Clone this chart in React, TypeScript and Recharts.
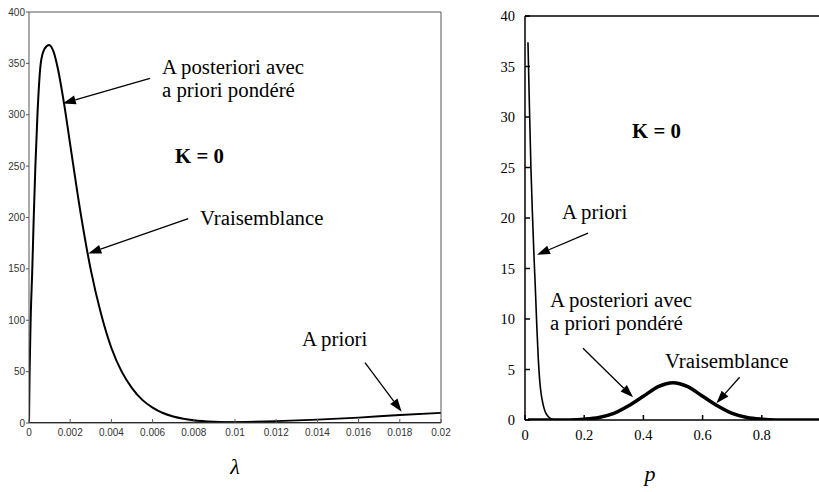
import React from 'react';
import { LineChart, Line, XAxis, YAxis, ReferenceLine } from 'recharts';

// left panel: lambda
const lambdaPost = [0, 0.00003, 0.00008, 0.00016, 0.00023, 0.00031, 0.00041, 0.00057, 0.00075, 0.00097, 0.0012, 0.0014, 0.0017, 0.002, 0.0025, 0.003, 0.0035, 0.004, 0.0045, 0.005, 0.0055, 0.006, 0.0065, 0.007, 0.0075, 0.008, 0.009, 0.01, 0.012, 0.014, 0.016, 0.018, 0.02];
const posteriorLambda = [0, 50, 100, 150, 200, 250, 300, 350, 364, 368, 361, 345, 311, 271, 205, 149, 106, 73, 50, 34, 22.5, 15, 9.7, 6.4, 4.2, 2.7, 1.1, 0.4, 0.1, 0, 0, 0, 0];
const lambdaPrior = [0, 0.006, 0.008, 0.01, 0.012, 0.014, 0.016, 0.018, 0.02];
const priorLambda = [0, 0, 0.3, 0.8, 1.8, 3.3, 5.3, 7.8, 9.8];
const lambdaTicks = [0, 0.002, 0.004, 0.006, 0.008, 0.01, 0.012, 0.014, 0.016, 0.018, 0.02];
const leftTicks = [0, 50, 100, 150, 200, 250, 300, 350, 400];

// right panel: p
const pPrior = [0.01, 0.015, 0.02, 0.025, 0.03, 0.035, 0.04, 0.045, 0.05, 0.055, 0.06, 0.065, 0.07, 0.08, 0.09, 0.1];
const priorP = [37.4, 31, 25, 20.5, 16.5, 13, 9.2, 6, 3.8, 2.5, 1.7, 1.1, 0.7, 0.3, 0.1, 0];
const pBell = [0.01, 0.1, 0.15, 0.2, 0.25, 0.3, 0.35, 0.4, 0.45, 0.5, 0.55, 0.6, 0.65, 0.7, 0.75, 0.8, 0.85, 0.9, 1];
const likelihoodP = [0, 0, 0.01, 0.08, 0.25, 0.65, 1.4, 2.35, 3.3, 3.7, 3.3, 2.35, 1.4, 0.65, 0.25, 0.08, 0.01, 0, 0];
const pTicks = [0, 0.2, 0.4, 0.6, 0.8];
const rightTicks = [0, 5, 10, 15, 20, 25, 30, 35, 40];

const postData = lambdaPost.map((x, i) => ({ x, y: posteriorLambda[i] }));
const priorData = lambdaPrior.map((x, i) => ({ x, y: priorLambda[i] }));
const priorPData = pPrior.map((x, i) => ({ x, y: priorP[i] }));
const bellData = pBell.map((x, i) => ({ x, y: likelihoodP[i] }));

const Arrow = (props: any) => {
  const { x1, y1, x2, y2 } = props;
  const dx = x2 - x1;
  const dy = y2 - y1;
  const len = Math.hypot(dx, dy) || 1;
  const ux = dx / len;
  const uy = dy / len;
  const hl = 13;
  const hw = 4.5;
  const bx = x2 - ux * hl;
  const by = y2 - uy * hl;
  return (
    <g>
      <line x1={x1} y1={y1} x2={bx} y2={by} stroke="#000" strokeWidth={1.3} />
      <polygon
        points={`${x2},${y2} ${bx - uy * hw},${by + ux * hw} ${bx + uy * hw},${by - ux * hw}`}
        fill="#000"
      />
    </g>
  );
};

const serif = "'Liberation Serif', 'DejaVu Serif', Tinos, 'Noto Serif', 'Nimbus Roman', FreeSerif, Times, serif";
const sans = "'Liberation Sans', Arial";
const fmt = (v: number) => String(v);

export default function App() {
  return (
    <div style={{ position: 'fixed', left: 0, top: 0, width: 819, height: 492, overflow: 'hidden', background: '#fff' }}>
      <div style={{ position: 'absolute', left: 0, top: 0 }}>
        <LineChart width={460} height={492} margin={{ top: 11, right: 18, bottom: 39, left: 0 }}>
          <XAxis dataKey="x" type="number" domain={[0, 0.02]} ticks={lambdaTicks} interval={0} tickFormatter={fmt}
            height={30} tickSize={-4} tickMargin={10} stroke="#555" allowDataOverflow
            tick={{ fontSize: 10, fill: '#333', style: { fontFamily: sans } }} />
          <XAxis xAxisId="top" orientation="top" dataKey="x" type="number" domain={[0, 0.02]} ticks={lambdaTicks}
            interval={0} height={1} tick={false} tickSize={-4} stroke="#555" allowDataOverflow />
          <YAxis type="number" domain={[0, 400]} ticks={leftTicks} interval={0} width={29} tickSize={3} tickMargin={1}
            stroke="#555" allowDataOverflow tick={{ fontSize: 10, fill: '#333', style: { fontFamily: sans } }} />
          <YAxis yAxisId="right" orientation="right" type="number" domain={[0, 400]} ticks={leftTicks} interval={0}
            width={1} tick={false} tickSize={-4} stroke="#555" allowDataOverflow />
          <Line data={priorData} dataKey="y" type="monotone" stroke="#000" strokeWidth={1.8} dot={false} isAnimationActive={false} />
          <Line data={postData} dataKey="y" type="monotone" stroke="#000" strokeWidth={2} dot={false} isAnimationActive={false} />
          <ReferenceLine segment={[{ x: 0.00587, y: 335.5 }, { x: 0.00164, y: 311 }]} ifOverflow="visible" shape={Arrow} />
          <ReferenceLine segment={[{ x: 0.00773, y: 199 }, { x: 0.00288, y: 165 }]} ifOverflow="visible" shape={Arrow} />
          <ReferenceLine segment={[{ x: 0.01631, y: 58.7 }, { x: 0.01809, y: 11 }]} ifOverflow="visible" shape={Arrow} />
        </LineChart>
      </div>
      <div style={{ position: 'absolute', left: 460, top: 0 }}>
        <LineChart width={380} height={492} margin={{ top: 15, right: 18, bottom: 32, left: 0 }}>
          <XAxis dataKey="x" type="number" domain={[0, 1]} ticks={pTicks} interval={0} tickFormatter={fmt}
            height={40} tickSize={-5} tickMargin={15} stroke="#000" strokeWidth={1.5} allowDataOverflow
            tick={{ fontSize: 14.5, fill: '#000', style: { fontFamily: serif } }} />
          <XAxis xAxisId="top" orientation="top" dataKey="x" type="number" domain={[0, 1]} ticks={pTicks}
            interval={0} height={1} tick={false} tickSize={-5} stroke="#000" strokeWidth={1.5} allowDataOverflow />
          <YAxis type="number" domain={[0, 40]} ticks={rightTicks} interval={0} width={65} tickSize={-5} tickMargin={15}
            stroke="#000" strokeWidth={1.5} allowDataOverflow tick={{ fontSize: 14.5, fill: '#000', style: { fontFamily: serif } }} />
          <YAxis yAxisId="right" orientation="right" type="number" domain={[0, 40]} ticks={rightTicks} interval={0}
            width={1} tick={false} tickSize={-5} stroke="#000" allowDataOverflow />
          <Line data={priorPData} dataKey="y" type="monotone" stroke="#000" strokeWidth={1.6} dot={false} isAnimationActive={false} />
          <Line data={bellData} dataKey="y" type="monotone" stroke="#000" strokeWidth={3.5} dot={false} isAnimationActive={false} />
          <ReferenceLine segment={[{ x: 0.2128, y: 18.5 }, { x: 0.0405, y: 16.35 }]} ifOverflow="visible" shape={Arrow} />
          <ReferenceLine segment={[{ x: 0.196, y: 7.1 }, { x: 0.365, y: 2.25 }]} ifOverflow="visible" shape={Arrow} />
          <ReferenceLine segment={[{ x: 0.725, y: 4.23 }, { x: 0.6466, y: 1.65 }]} ifOverflow="visible" shape={Arrow} />
        </LineChart>
      </div>
      <svg width={819} height={492} style={{ position: 'absolute', left: 0, top: 0, pointerEvents: 'none' }}>
        <g style={{ fontFamily: serif, fontSize: 20.8 }} fill="#000">
          <text x={162} y={74}>A posteriori avec</text>
          <text x={162} y={97}>a priori pondéré</text>
          <text x={175} y={163} fontWeight="bold">K = 0</text>
          <text x={200} y={225}>Vraisemblance</text>
          <text x={302} y={346}>A priori</text>
          <text x={632} y={137.5} fontWeight="bold">K = 0</text>
          <text x={562} y={218.5}>A priori</text>
          <text x={550} y={306.5}>A posteriori avec</text>
          <text x={550} y={329.5}>a priori pondéré</text>
          <text x={665} y={367.5}>Vraisemblance</text>
          <text x={235} y={474} style={{ fontSize: 22, fontStyle: 'italic' }} textAnchor="middle">λ</text>
          <text x={650} y={481} style={{ fontSize: 22, fontStyle: 'italic' }} textAnchor="middle">p</text>
        </g>
      </svg>
    </div>
  );
}
